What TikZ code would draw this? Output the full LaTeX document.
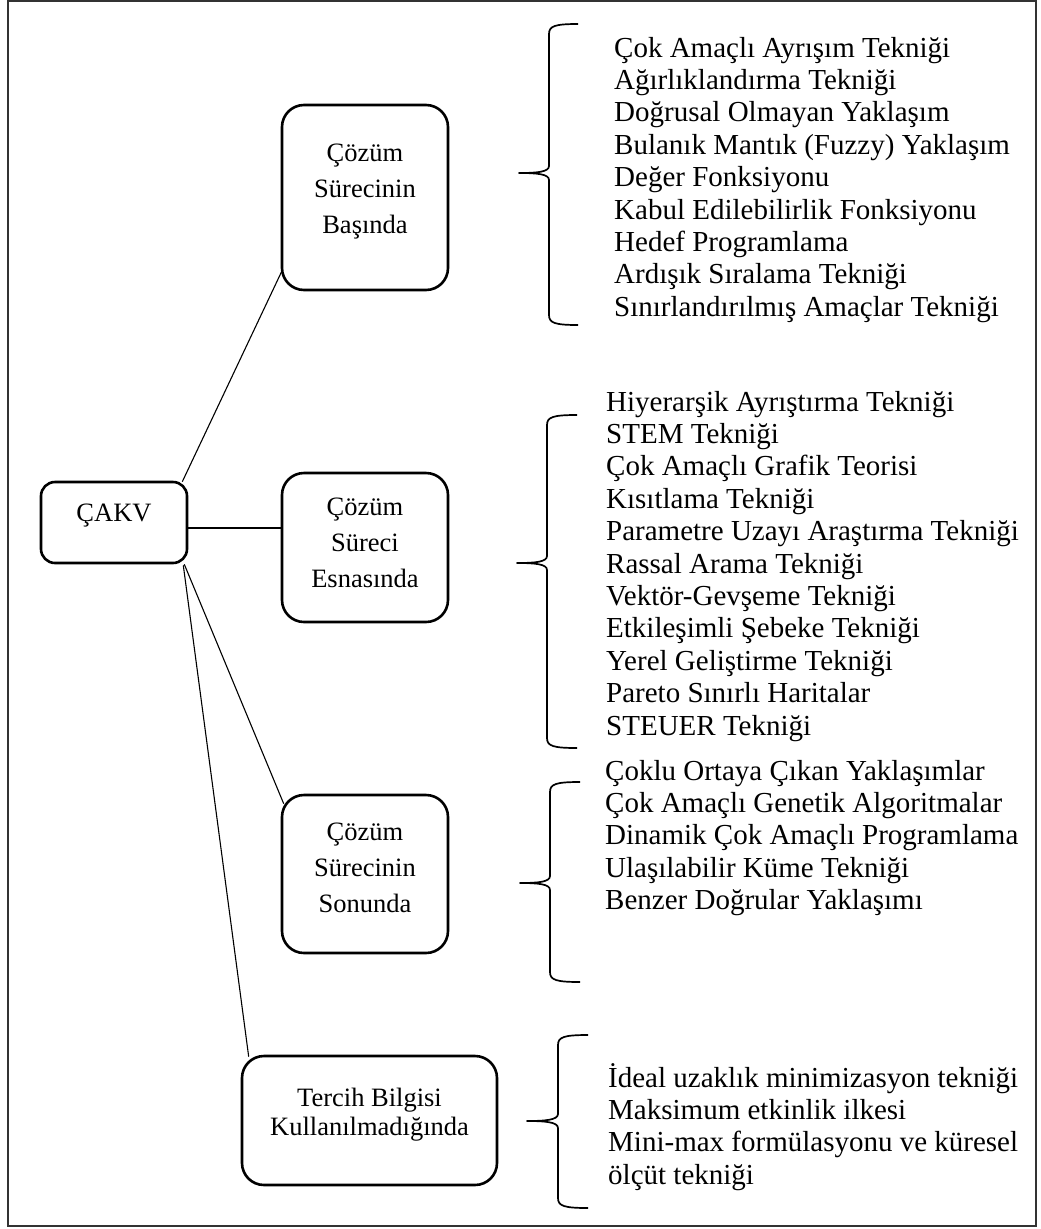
\documentclass[tikz,border=0pt]{standalone}
\usepackage{fontspec}
\setmainfont{Liberation Serif}
\usetikzlibrary{calc}
% curly brace opening to the right: x, top, bottom, tip x, tip y, end x
\newcommand\mybrace[6]{%
  \draw[brace] (#6,#2) .. controls ({#1+6},#2) and (#1,{#2+2}) .. (#1,{#2+10})
    -- (#1,{#5-7}) .. controls (#1,{#5-1}) and ({#4+18},#5) .. (#4,#5)
    .. controls ({#4+18},#5) and (#1,{#5+1}) .. (#1,{#5+7})
    -- (#1,{#3-10}) .. controls (#1,{#3-2}) and ({#1+6},#3) .. (#6,#3);}
\begin{document}
\begin{tikzpicture}[x=1pt,y=-1pt,
  box/.style={draw, line width=2.6pt, rounded corners=22pt, inner sep=0pt},
  boxtext/.style={font=\fontsize{26.5}{33.5}\selectfont, anchor=base, inner sep=0pt},
  item/.style={font=\fontsize{29}{32.4}\selectfont, anchor=base west, inner sep=0pt},
  link/.style={line width=1.1pt},
  brace/.style={line width=1.7pt, line join=round}]

\useasboundingbox (0,0) rectangle (1041,1229);
\draw[line width=2.2pt, black!80] (8,1) rectangle (1036,1226);

% root and the four groups
\node[box, rounded corners=14pt, minimum width=146pt, minimum height=81pt] (cakv) at (114,522.5) {};
\node[boxtext] (cakvt) at (114,521) {ÇAKV};

\node[box, minimum width=166pt, minimum height=185pt] (b1) at (365,197.5) {};
\foreach \t [count=\i] in {Çözüm, Sürecinin, Başında}
  \node[boxtext] (b1t\i) at (365,{161+36*(\i-1)}) {\t};

\node[box, minimum width=166pt, minimum height=149pt] (b2) at (365,547.5) {};
\foreach \t [count=\i] in {Çözüm, Süreci, Esnasında}
  \node[boxtext] (b2t\i) at (365,{515+36*(\i-1)}) {\t};

\node[box, minimum width=166pt, minimum height=158pt] (b3) at (365,874) {};
\foreach \t [count=\i] in {Çözüm, Sürecinin, Sonunda}
  \node[boxtext] (b3t\i) at (365,{840+36*(\i-1)}) {\t};

\node[box, minimum width=255pt, minimum height=129pt] (b4) at (369.5,1120.5) {};
\foreach \t [count=\i] in {Tercih Bilgisi, Kullanılmadığında}
  \node[boxtext] (b4t\i) at (369.5,{1106+29*(\i-1)}) {\t};

% connectors
\coordinate (l2a) at ([yshift=-5.5pt]cakv.east);
\draw[link] ($(cakv.north east)+(-6,1)$) -- ($(b1.south west)+(2,-22)$);
\draw[link] (l2a) -- (l2a -| b2.west);
\draw[link] ($(cakv.south east)+(-4,0)$) -- ($(b3.north west)+(3,10)$);
\draw[link] ($(cakv.south east)+(-5,1)$) -- ($(b4.north west)+(8,2)$);

% braces
\mybrace{549}{24}{325}{519}{173}{578}
\mybrace{547}{415}{748}{517}{563}{577}
\mybrace{550}{782}{982}{520}{883}{580}
\mybrace{558}{1035}{1208}{527}{1121}{588}

% method lists
\foreach \t [count=\i] in {{Çok Amaçlı Ayrışım Tekniği}, {Ağırlıklandırma Tekniği},
    {Doğrusal Olmayan Yaklaşım}, {Bulanık Mantık (Fuzzy) Yaklaşım},
    {Değer Fonksiyonu}, {Kabul Edilebilirlik Fonksiyonu}, {Hedef Programlama},
    {Ardışık Sıralama Tekniği}, {Sınırlandırılmış Amaçlar Tekniği}}
  \node[item] (l1-\i) at (614,{57+32.4*(\i-1)}) {\t};

\foreach \t [count=\i] in {{Hiyerarşik Ayrıştırma Tekniği}, {STEM Tekniği},
    {Çok Amaçlı Grafik Teorisi}, {Kısıtlama Tekniği},
    {Parametre Uzayı Araştırma Tekniği}, {Rassal Arama Tekniği},
    {Vektör-Gevşeme Tekniği}, {Etkileşimli Şebeke Tekniği},
    {Yerel Geliştirme Tekniği}, {Pareto Sınırlı Haritalar}, {STEUER Tekniği}}
  \node[item] (l2-\i) at (606,{411+32.4*(\i-1)}) {\t};

\foreach \t [count=\i] in {{Çoklu Ortaya Çıkan Yaklaşımlar},
    {Çok Amaçlı Genetik Algoritmalar}, {Dinamik Çok Amaçlı Programlama},
    {Ulaşılabilir Küme Tekniği}, {Benzer Doğrular Yaklaşımı}}
  \node[item] (l3-\i) at (605,{780+32.4*(\i-1)}) {\t};

\foreach \t [count=\i] in {{İdeal uzaklık minimizasyon tekniği},
    {Maksimum etkinlik ilkesi}, {Mini-max formülasyonu ve küresel},
    {ölçüt tekniği}}
  \node[item] (l4-\i) at (608,{1087+32.4*(\i-1)}) {\t};
\end{tikzpicture}
\end{document}
